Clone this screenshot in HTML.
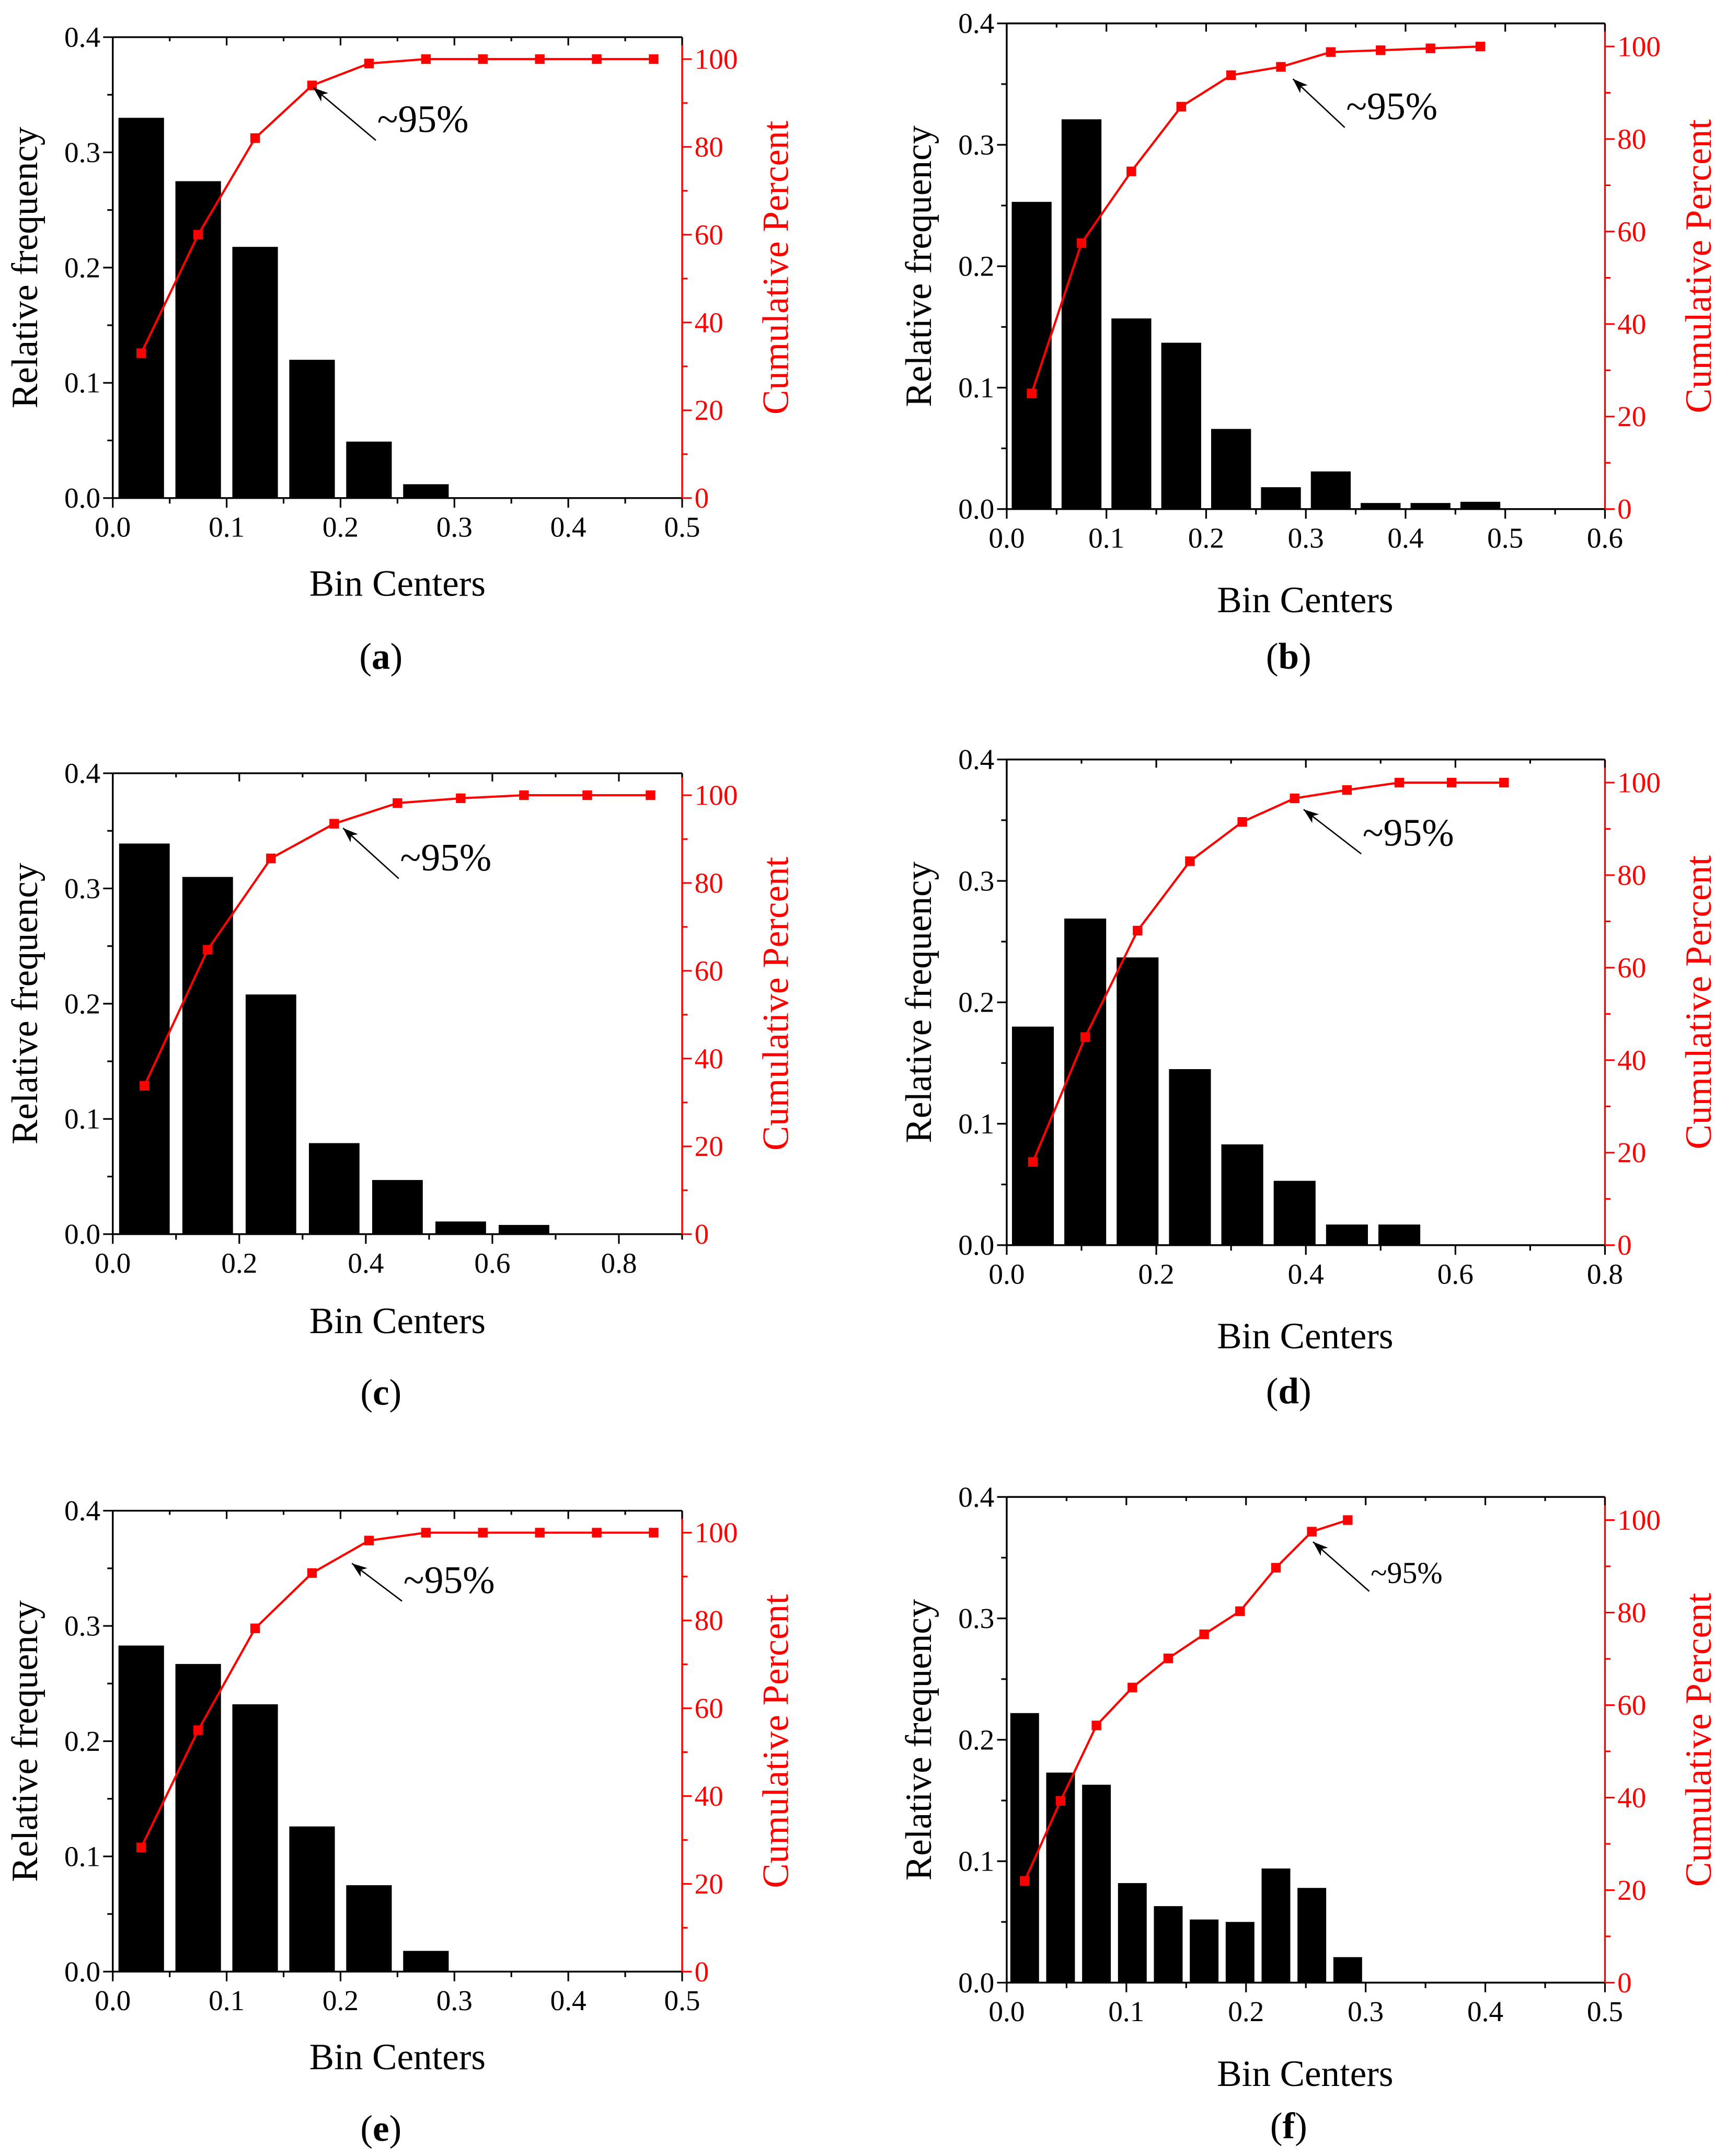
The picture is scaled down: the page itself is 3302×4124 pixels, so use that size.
<!DOCTYPE html>
<html><head><meta charset="utf-8"><style>
html,body{margin:0;padding:0;background:#fff}
svg{display:block}
svg text{font-family:"Liberation Serif","Times New Roman",serif}
</style></head><body>
<svg id="fig" width="3302" height="4124" viewBox="0 0 1255 1567" preserveAspectRatio="none" font-family="Liberation Serif, serif" xmlns="http://www.w3.org/2000/svg"></svg>
<script>
// ---- data (a) ----
const aCenters=[0.025,0.075,0.125,0.175,0.225,0.275,0.325,0.375,0.425,0.475];
const aFreq=[0.33,0.275,0.218,0.12,0.049,0.012,0,0,0,0];
const aCum=[33,60,82,94,99,100,100,100,100,100];
// ---- data (b) ----
const bCenters=[0.025,0.075,0.125,0.175,0.225,0.275,0.325,0.375,0.425,0.475];
const bFreq=[0.253,0.321,0.157,0.137,0.066,0.018,0.031,0.005,0.005,0.006];
const bCum=[25,57.5,73,87,93.8,95.6,98.8,99.2,99.6,100];
// ---- data (c) ----
const cCenters=[0.05,0.15,0.25,0.35,0.45,0.55,0.65,0.75,0.85];
const cFreq=[0.339,0.31,0.208,0.079,0.047,0.011,0.008,0,0];
const cCum=[33.8,64.8,85.6,93.5,98.2,99.3,100,100,100];
// ---- data (d) ----
const dCenters=[0.035,0.105,0.175,0.245,0.315,0.385,0.455,0.525,0.595,0.665];
const dFreq=[0.18,0.269,0.237,0.145,0.083,0.053,0.017,0.017,0,0];
const dCum=[18,45,68,83,91.5,96.6,98.4,100,100,100];
// ---- data (e) ----
const eCenters=[0.025,0.075,0.125,0.175,0.225,0.275,0.325,0.375,0.425,0.475];
const eFreq=[0.283,0.267,0.232,0.126,0.075,0.018,0,0,0,0];
const eCum=[28.3,55,78.2,90.8,98.2,100,100,100,100,100];
// ---- data (f) ----
const fCenters=[0.015,0.045,0.075,0.105,0.135,0.165,0.195,0.225,0.255,0.285];
const fFreq=[0.222,0.173,0.163,0.082,0.063,0.052,0.050,0.094,0.078,0.021];
const fCum=[22,39.3,55.6,63.8,70.1,75.3,80.3,89.7,97.5,100];
// ---- tick labels ----
const leftTicks=[0,0.1,0.2,0.3,0.4];
const rightTicks=[0,20,40,60,80,100];
const xTicks5=["0.0","0.1","0.2","0.3","0.4","0.5"];
const xTicks6=["0.0","0.1","0.2","0.3","0.4","0.5","0.6"];
const xTicks9=["0.0","0.2","0.4","0.6","0.8"];
const xTicks8=["0.0","0.2","0.4","0.6","0.8"];

const NS="http://www.w3.org/2000/svg";
const svg=document.getElementById('fig');
const FF='"Liberation Serif", serif';
function mk(tag,attrs,parent,txt){const e=document.createElementNS(NS,tag);for(const k in attrs)e.setAttribute(k,attrs[k]);if(tag==='text')e.setAttribute('font-family',FF);if(txt!==undefined)e.textContent=txt;(parent||svg).appendChild(e);return e;}

const defs=mk('defs',{});
const mkr=mk('marker',{id:'arr',markerWidth:'11',markerHeight:'8',refX:'11',refY:'4',orient:'auto',markerUnits:'userSpaceOnUse'},defs);
mk('path',{d:'M0,0 L11,4 L0,8 L3,4 Z',fill:'#000'},mkr);

const panels=[
 {id:'a',L:82,R:496,T:27,B:362,xmax:0.5,xt:xTicks5,xstep:0.1,bw:0.05,c:aCenters,f:aFreq,cu:aCum,tip:[0.176,93.5],tail:[0.231,81.5],lab:'(a)',lx:277,ly:486,bx:289,by:433,fs:28},
 {id:'b',L:732,R:1167,T:17,B:370,xmax:0.6,xt:xTicks6,xstep:0.1,bw:0.05,c:bCenters,f:bFreq,cu:bCum,tip:[0.287,93],tail:[0.339,82.5],lab:'(b)',lx:937,ly:486,bx:949,by:445,fs:28},
 {id:'c',L:82,R:496,T:562,B:897,xmax:0.9,xt:xTicks9,xstep:0.2,bw:0.1,c:cCenters,f:cFreq,cu:cCum,tip:[0.364,92.5],tail:[0.452,81],lab:'(c)',lx:277,ly:1021,bx:289,by:969,fs:28},
 {id:'d',L:732,R:1167,T:552,B:905,xmax:0.8,xt:xTicks8,xstep:0.2,bw:0.07,c:dCenters,f:dFreq,cu:dCum,tip:[0.397,94.2],tail:[0.474,84.6],lab:'(d)',lx:937,ly:1020,bx:949,by:980,fs:28},
 {id:'e',L:82,R:496,T:1098,B:1433,xmax:0.5,xt:xTicks5,xstep:0.1,bw:0.05,c:eCenters,f:eFreq,cu:eCum,tip:[0.21,93],tail:[0.254,84.4],lab:'(e)',lx:277,ly:1556,bx:289,by:1504,fs:28},
 {id:'f',L:732,R:1167,T:1088,B:1441,xmax:0.5,xt:xTicks5,xstep:0.1,bw:0.03,c:fCenters,f:fFreq,cu:fCum,tip:[0.256,95.3],tail:[0.303,84.6],lab:'(f)',lx:937,ly:1554,bx:949,by:1516,fs:22}
];

panels.forEach(p=>{
 const g=mk('g',{});
 
 
 const X=v=>p.L+(p.R-p.L)*v/p.xmax;
 const Y=v=>p.B-(p.B-p.T)*v/0.4;
 const Y2=v=>p.B-(p.B-p.T)*v/105;
 p.c.forEach((cx,i)=>{
  if(p.f[i]<=0)return;
  const x0=X(cx-p.bw*0.4),x1=X(cx+p.bw*0.4);
  const r=mk('rect',{x:x0,y:Y(p.f[i]),width:x1-x0,height:p.B-Y(p.f[i]),fill:'#000'},g);
  
  
 });
 mk('line',{x1:p.L,y1:p.T,x2:p.R,y2:p.T,stroke:'#000','stroke-width':1.3},g);
 mk('line',{x1:p.L,y1:p.T,x2:p.L,y2:p.B,stroke:'#000','stroke-width':1.3},g);
 mk('line',{x1:p.L,y1:p.B,x2:p.R,y2:p.B,stroke:'#000','stroke-width':1.3},g);
 mk('line',{x1:p.R,y1:p.T,x2:p.R,y2:p.B,stroke:'#f00','stroke-width':1.3},g);
 const nX=Math.round(p.xmax/p.xstep*2);
 for(let k=0;k<=nX;k++){const v=k*p.xstep/2;if(v>p.xmax+1e-9)break;const x=X(v);const maj=k%2===0;
  mk('line',{x1:x,y1:p.B,x2:x,y2:p.B+(maj?7:4),stroke:'#000','stroke-width':1.2},g);
  mk('line',{x1:x,y1:p.T,x2:x,y2:p.T+(maj?6:3),stroke:'#000','stroke-width':1.2},g);}
 p.xt.forEach((t,k)=>{const tx=mk('text',{x:X(k*p.xstep),y:p.B+28,'font-size':21,'text-anchor':'middle'},g,t);
  });
 for(let k=0;k<=8;k++){const v=k*0.05,y=Y(v);mk('line',{x1:p.L,y1:y,x2:p.L-(k%2?4:7),y2:y,stroke:'#000','stroke-width':1.2},g);}
 leftTicks.forEach(v=>{const tx=mk('text',{x:p.L-9,y:Y(v)+7,'font-size':21,'text-anchor':'end'},g,v.toFixed(1));
  });
 for(let k=0;k<=10;k++){const v=k*10,y=Y2(v);mk('line',{x1:p.R,y1:y,x2:p.R+(k%2?4:7),y2:y,stroke:'#f00','stroke-width':1.2},g);}
 rightTicks.forEach(v=>{const tx=mk('text',{x:p.R+9,y:Y2(v)+7,'font-size':21,fill:'#f00'},g,String(v));
  });
 const xt=mk('text',{x:p.bx,y:p.by,'font-size':27,'text-anchor':'middle'},g,'Bin Centers');
 
 const ym=(p.T+p.B)/2;
 const yl=mk('text',{x:0,y:0,'font-size':27,'text-anchor':'middle',transform:`translate(${p.L-55},${ym}) rotate(-90)`},g,'Relative frequency');
 
 const yr=mk('text',{x:0,y:0,'font-size':27,'text-anchor':'middle',fill:'#f00',transform:`translate(${p.R+77},${ym}) rotate(-90)`},g,'Cumulative Percent');
 
 const pts=p.c.map((cx,i)=>X(cx)+','+Y2(p.cu[i])).join(' ');
 const pl=mk('polyline',{points:pts,fill:'none',stroke:'#f00','stroke-width':1.6},g);
 
 p.c.forEach((cx,i)=>{const m=mk('rect',{x:X(cx)-3.5,y:Y2(p.cu[i])-3.5,width:7,height:7,fill:'#f00'},g);
  });
 const ax1=X(p.tail[0]),ay1=Y2(p.tail[1]),ax2=X(p.tip[0]),ay2=Y2(p.tip[1]);
 const ar=mk('line',{x1:ax1,y1:ay1,x2:ax2,y2:ay2,stroke:'#000','stroke-width':1,'marker-end':'url(#arr)'},g);
 
 const at=mk('text',{x:ax1+1,y:ay1-6,'font-size':p.fs},g,'~95%');
 
 const lb=mk('text',{x:p.lx,y:p.ly,'font-size':27,'text-anchor':'middle'},g);
 
 mk('tspan',{},lb,'(');mk('tspan',{'font-weight':'bold'},lb,p.lab[1]);mk('tspan',{},lb,')');
});
</script>
</body></html>
